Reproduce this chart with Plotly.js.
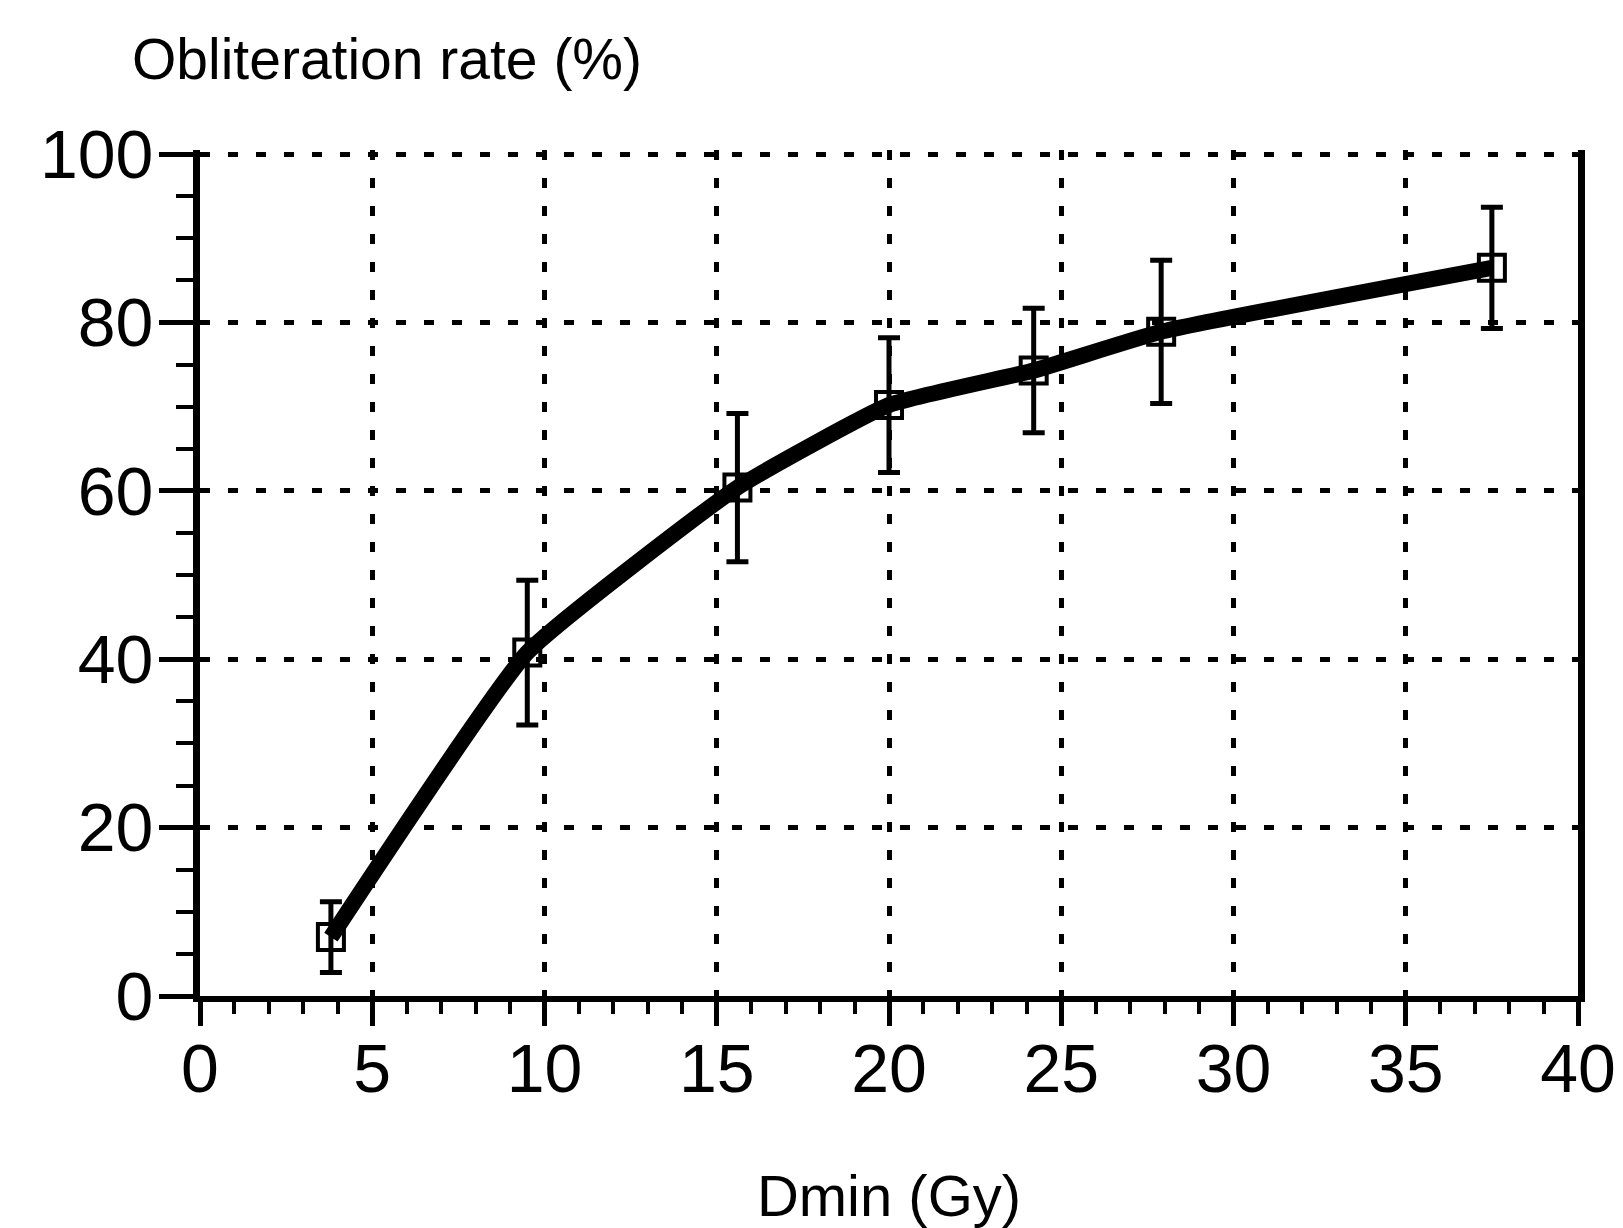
<!DOCTYPE html>
<html>
<head>
<meta charset="utf-8">
<script src="https://cdn.plot.ly/plotly-3.0.1.min.js"></script>
<style>html,body{margin:0;padding:0;background:#fff;}#chart{width:1623px;height:1228px;}</style>
</head>
<body>
<div id="chart"></div>
<script>
// Data
const doseGy = [3.8, 9.5, 15.6, 20.0, 24.2, 27.9, 37.5];
const obliterationRate = [7.0, 40.8, 60.4, 70.2, 74.3, 78.9, 86.5];
const errorRate = [4.2, 8.6, 8.8, 8.0, 7.4, 8.5, 7.2];
const xTickVals = [0, 5, 10, 15, 20, 25, 30, 35, 40];
const yTickVals = [0, 20, 40, 60, 80, 100];
const xTitle = "Dmin (Gy)";
const yTitle = "Obliteration rate (%)";

const FONT = "Liberation Sans, Arial, Helvetica, sans-serif";

const trace = {
  x: doseGy,
  y: obliterationRate,
  type: "scatter",
  mode: "lines+markers",
  line: {color: "#000", width: 16, shape: "spline", smoothing: 0.4},
  marker: {symbol: "square-open", size: 26, color: "#000", line: {color: "#000", width: 4}},
  error_y: {type: "data", array: errorRate, visible: true, color: "#000", thickness: 5, width: 11},
  showlegend: false,
  hoverinfo: "skip"
};

const layout = {
  width: 1623,
  height: 1228,
  margin: {l: 200, r: 45, t: 150, b: 232},
  paper_bgcolor: "#fff",
  plot_bgcolor: "#fff",
  font: {family: FONT, color: "#000"},
  xaxis: {
    range: [0, 40],
    tickvals: xTickVals,
    ticktext: xTickVals.map(String),
    showline: true, linecolor: "#000", linewidth: 6, mirror: false,
    ticks: "outside", ticklen: 24, tickwidth: 5, tickcolor: "#000",
    minor: {dtick: 1, ticks: "outside", ticklen: 12, tickwidth: 4, tickcolor: "#000", showgrid: false},
    showgrid: true, gridcolor: "#000", gridwidth: 5, griddash: "10px,18px",
    zeroline: false,
    ticklabelstandoff: -16,
    tickfont: {family: FONT, size: 68, color: "#000"},
    title: {text: xTitle, font: {family: FONT, size: 58, color: "#000"}, standoff: 80},
    automargin: false
  },
  yaxis: {
    range: [0, 100.5],
    tickvals: yTickVals,
    ticktext: yTickVals.map(String),
    showline: true, linecolor: "#000", linewidth: 7, mirror: true,
    ticks: "outside", ticklen: 34, tickwidth: 5, tickcolor: "#000",
    minor: {dtick: 5, ticks: "outside", ticklen: 17, tickwidth: 4, tickcolor: "#000", showgrid: false},
    showgrid: true, gridcolor: "#000", gridwidth: 5, griddash: "10px,18px",
    zeroline: false,
    ticklabelstandoff: -8,
    tickfont: {family: FONT, size: 68, color: "#000"},
    automargin: false
  },
  annotations: [{
    text: yTitle,
    xref: "paper", yref: "paper",
    x: 0.136, y: 1.107,
    xanchor: "center", yanchor: "middle",
    showarrow: false,
    font: {family: FONT, size: 57, color: "#000"}
  }]
};

Plotly.newPlot("chart", [trace], layout, {staticPlot: true, displayModeBar: false});
</script>
</body>
</html>
